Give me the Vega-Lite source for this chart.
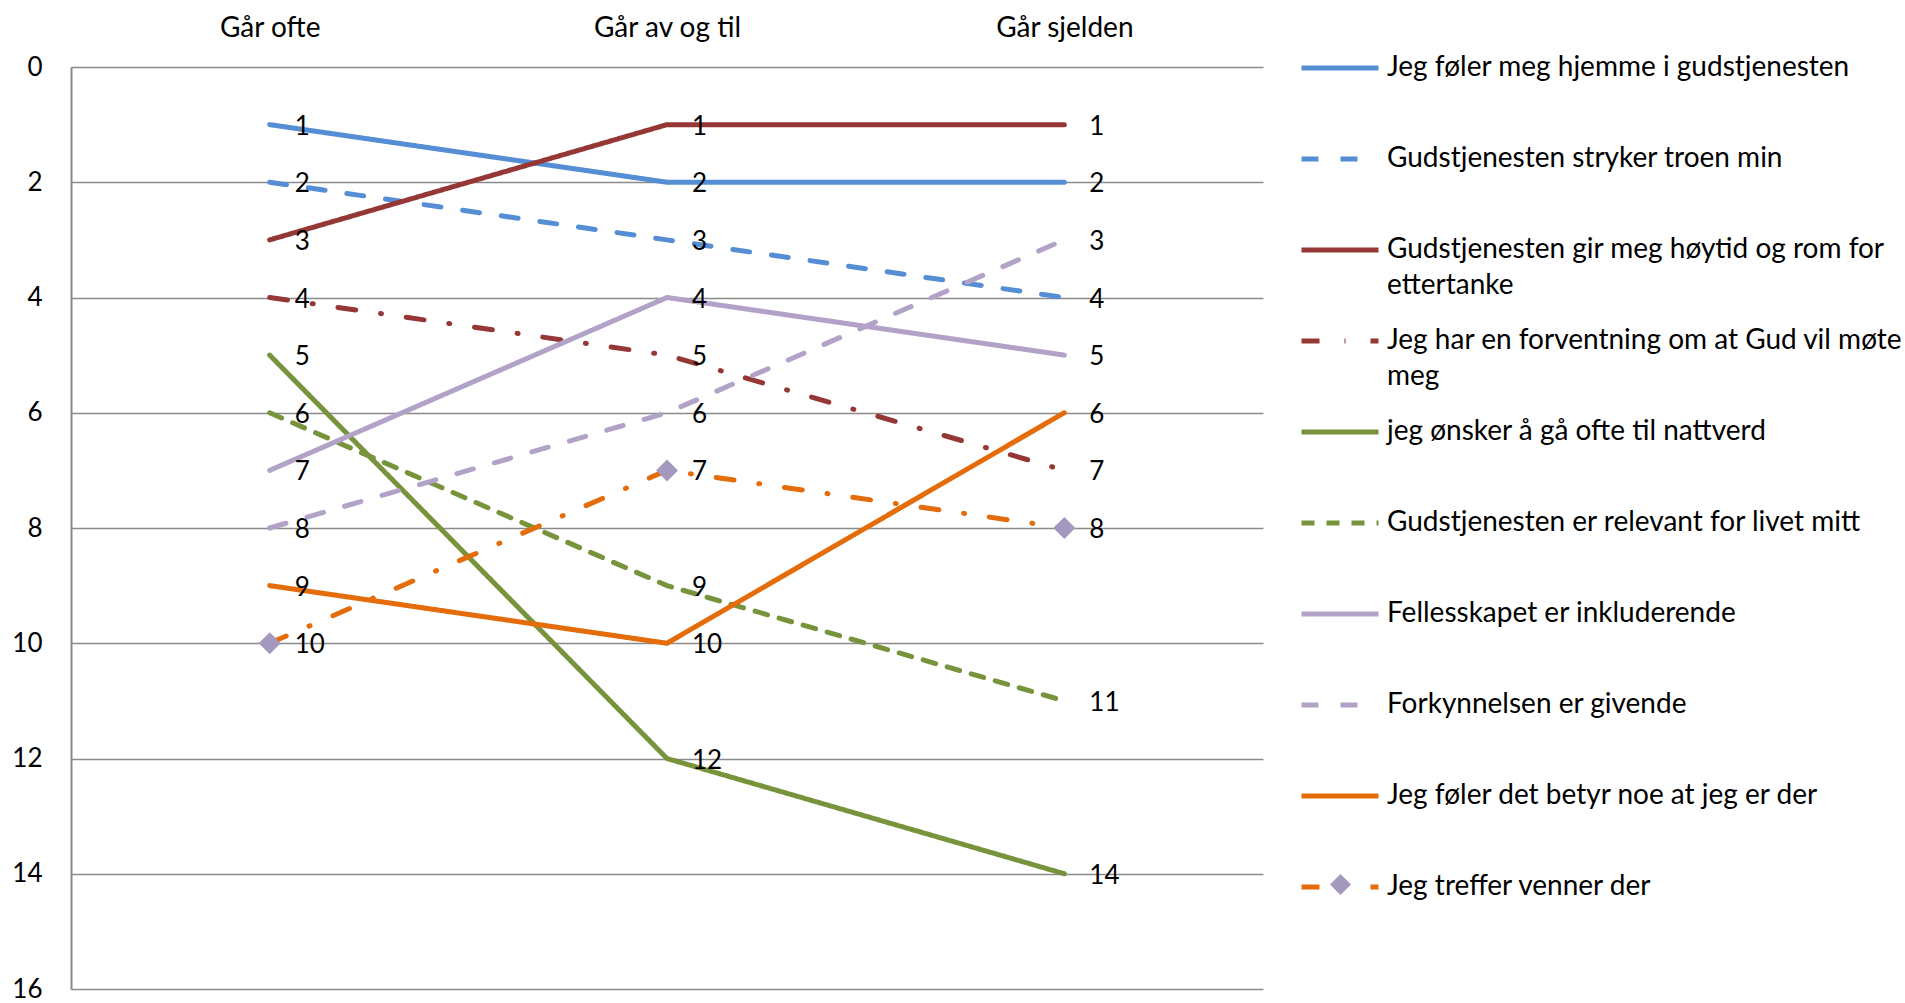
{
  "$schema": "https://vega.github.io/schema/vega-lite/v6.json",
  "width": 1192,
  "height": 922,
  "autosize": {"type": "none"},
  "padding": {"left": 71, "top": 67, "right": 642, "bottom": 14},
  "background": "white",
  "config": {
    "view": {"stroke": null},
    "font": "Lato",
    "axis": {"labelFont": "Lato", "labelColor": "#000000", "labelFontSize": 26},
    "legend": {"labelFont": "Lato"}
  },
  "data": {
    "values": [
      {"series": "Jeg føler meg hjemme i gudstjenesten", "cat": "Går ofte", "rank": 1},
      {"series": "Jeg føler meg hjemme i gudstjenesten", "cat": "Går av og til", "rank": 2},
      {"series": "Jeg føler meg hjemme i gudstjenesten", "cat": "Går sjelden", "rank": 2},
      {"series": "Gudstjenesten stryker troen min", "cat": "Går ofte", "rank": 2},
      {"series": "Gudstjenesten stryker troen min", "cat": "Går av og til", "rank": 3},
      {"series": "Gudstjenesten stryker troen min", "cat": "Går sjelden", "rank": 4},
      {"series": "Gudstjenesten gir meg høytid og rom for ettertanke", "cat": "Går ofte", "rank": 3},
      {"series": "Gudstjenesten gir meg høytid og rom for ettertanke", "cat": "Går av og til", "rank": 1},
      {"series": "Gudstjenesten gir meg høytid og rom for ettertanke", "cat": "Går sjelden", "rank": 1},
      {"series": "Jeg har en forventning om at Gud vil møte meg", "cat": "Går ofte", "rank": 4},
      {"series": "Jeg har en forventning om at Gud vil møte meg", "cat": "Går av og til", "rank": 5},
      {"series": "Jeg har en forventning om at Gud vil møte meg", "cat": "Går sjelden", "rank": 7},
      {"series": "jeg ønsker å gå ofte til nattverd", "cat": "Går ofte", "rank": 5},
      {"series": "jeg ønsker å gå ofte til nattverd", "cat": "Går av og til", "rank": 12},
      {"series": "jeg ønsker å gå ofte til nattverd", "cat": "Går sjelden", "rank": 14},
      {"series": "Gudstjenesten er relevant for livet mitt", "cat": "Går ofte", "rank": 6},
      {"series": "Gudstjenesten er relevant for livet mitt", "cat": "Går av og til", "rank": 9},
      {"series": "Gudstjenesten er relevant for livet mitt", "cat": "Går sjelden", "rank": 11},
      {"series": "Fellesskapet er inkluderende", "cat": "Går ofte", "rank": 7},
      {"series": "Fellesskapet er inkluderende", "cat": "Går av og til", "rank": 4},
      {"series": "Fellesskapet er inkluderende", "cat": "Går sjelden", "rank": 5},
      {"series": "Forkynnelsen er givende", "cat": "Går ofte", "rank": 8},
      {"series": "Forkynnelsen er givende", "cat": "Går av og til", "rank": 6},
      {"series": "Forkynnelsen er givende", "cat": "Går sjelden", "rank": 3},
      {"series": "Jeg føler det betyr noe at jeg er der", "cat": "Går ofte", "rank": 9},
      {"series": "Jeg føler det betyr noe at jeg er der", "cat": "Går av og til", "rank": 10},
      {"series": "Jeg føler det betyr noe at jeg er der", "cat": "Går sjelden", "rank": 6},
      {"series": "Jeg treffer venner der", "cat": "Går ofte", "rank": 10},
      {"series": "Jeg treffer venner der", "cat": "Går av og til", "rank": 7},
      {"series": "Jeg treffer venner der", "cat": "Går sjelden", "rank": 8}
    ]
  },
  "encoding": {
    "x": {
      "field": "cat",
      "type": "nominal",
      "sort": ["Går ofte", "Går av og til", "Går sjelden"],
      "scale": {"type": "point", "padding": 0.5},
      "axis": {
        "orient": "top",
        "title": null,
        "ticks": false,
        "tickSize": 0,
        "domain": false,
        "grid": false,
        "labelAngle": 0,
        "labelBaseline": "alphabetic",
        "labelPadding": 31,
        "labelFontSize": 28
      }
    },
    "y": {
      "field": "rank",
      "type": "quantitative",
      "scale": {"domain": [0, 16], "reverse": true, "nice": false, "zero": true},
      "axis": {
        "title": null,
        "values": [0, 2, 4, 6, 8, 10, 12, 14, 16],
        "ticks": false,
        "tickSize": 0,
        "grid": true,
        "gridColor": "#8a8a8a",
        "gridWidth": 1.5,
        "domain": true,
        "domainColor": "#8a8a8a",
        "domainWidth": 2,
        "labelPadding": 29,
        "labelFontSize": 26,
        "labelBaseline": "middle"
      }
    }
  },
  "layer": [
    {
      "mark": {"type": "line", "strokeWidth": 5, "strokeCap": "round"},
      "encoding": {
        "color": {
          "field": "series",
          "type": "nominal",
          "scale": {
            "domain": [
              "Jeg føler meg hjemme i gudstjenesten",
              "Gudstjenesten stryker troen min",
              "Gudstjenesten gir meg høytid og rom for ettertanke",
              "Jeg har en forventning om at Gud vil møte meg",
              "jeg ønsker å gå ofte til nattverd",
              "Gudstjenesten er relevant for livet mitt",
              "Fellesskapet er inkluderende",
              "Forkynnelsen er givende",
              "Jeg føler det betyr noe at jeg er der",
              "Jeg treffer venner der"
            ],
            "range": ["#558ed5", "#558ed5", "#953735", "#953735", "#77933c", "#77933c", "#b3a2c7", "#b3a2c7", "#e46c0a", "#e46c0a"]
          },
          "legend": {
            "title": null,
            "orient": "none",
            "legendX": 1228,
            "legendY": -40,
            "padding": 0,
            "symbolType": "stroke",
            "symbolSize": 5929,
            "symbolStrokeWidth": 5,
            "rowPadding": 0,
            "labelFontSize": 28,
            "labelColor": "#000000",
            "labelOffset": 6,
            "labelLimit": 700,
            "labelBaseline": "middle",
            "labelExpr": "datum.label == 'Gudstjenesten gir meg høytid og rom for ettertanke' ? ['Gudstjenesten gir meg høytid og rom for', 'ettertanke'] : datum.label == 'Jeg har en forventning om at Gud vil møte meg' ? ['Jeg har en forventning om at Gud vil møte', 'meg'] : [datum.label, ' ']",
            "encode": {"labels": {"update": {"lineHeight": {"value": 36}}}}
          }
        },
        "strokeDash": {
          "field": "series",
          "type": "nominal",
          "scale": {
            "domain": [
              "Jeg føler meg hjemme i gudstjenesten",
              "Gudstjenesten stryker troen min",
              "Gudstjenesten gir meg høytid og rom for ettertanke",
              "Jeg har en forventning om at Gud vil møte meg",
              "jeg ønsker å gå ofte til nattverd",
              "Gudstjenesten er relevant for livet mitt",
              "Fellesskapet er inkluderende",
              "Forkynnelsen er givende",
              "Jeg føler det betyr noe at jeg er der",
              "Jeg treffer venner der"
            ],
            "range": [[1, 0], [17, 22], [1, 0], [18, 25, 1, 25], [1, 0], [13, 12], [1, 0], [17, 22], [1, 0], [18, 25, 1, 25]]
          },
          "legend": null
        }
      }
    },
    {
      "transform": [{"filter": "datum.series == 'Jeg treffer venner der'"}],
      "mark": {"type": "point", "filled": true, "color": "#a598bf", "size": 484, "opacity": 1},
      "encoding": {
        "shape": {
          "field": "series",
          "type": "nominal",
          "scale": {"domain": ["Jeg treffer venner der"], "range": ["diamond"]},
          "legend": {
            "title": null,
            "orient": "none",
            "legendX": 1259,
            "legendY": 807,
            "padding": 0,
            "symbolSize": 441,
            "symbolFillColor": "#a598bf",
            "symbolStrokeWidth": 0,
            "symbolOpacity": 1,
            "labelExpr": "''",
            "labelOffset": 0
          }
        }
      }
    },
    {
      "mark": {"type": "text", "align": "left", "baseline": "middle", "dx": 25, "dy": 2, "fontSize": 26, "font": "Lato", "color": "#000000"},
      "encoding": {"text": {"field": "rank", "type": "quantitative"}}
    }
  ]
}
